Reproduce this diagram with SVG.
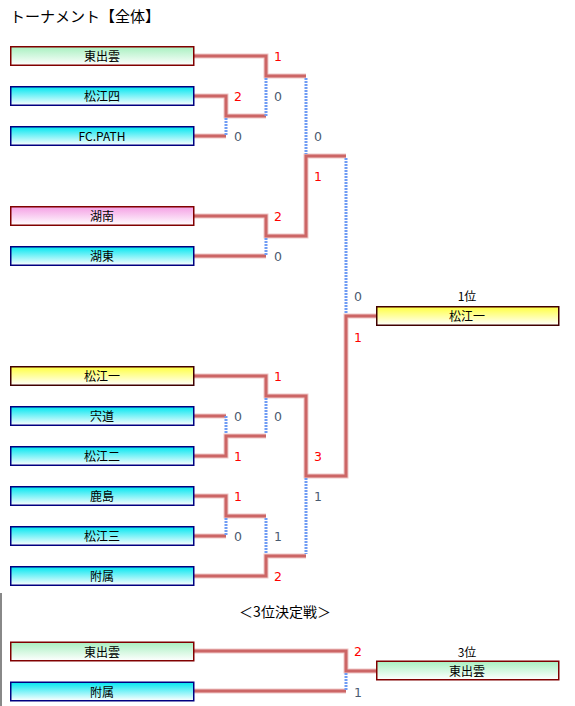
<svg xmlns="http://www.w3.org/2000/svg" width="575" height="706" viewBox="0 0 575 706">
<defs>
<linearGradient id="gG" x1="0" y1="0" x2="0" y2="1"><stop offset="0" stop-color="#a8f0c0"/><stop offset="1" stop-color="#ffffff"/></linearGradient>
<linearGradient id="gC" x1="0" y1="0" x2="0" y2="1"><stop offset="0" stop-color="#00e6f0"/><stop offset="1" stop-color="#ffffff"/></linearGradient>
<linearGradient id="gP" x1="0" y1="0" x2="0" y2="1"><stop offset="0" stop-color="#f4a0e4"/><stop offset="1" stop-color="#ffffff"/></linearGradient>
<linearGradient id="gY" x1="0" y1="0" x2="0" y2="1"><stop offset="0" stop-color="#ffff40"/><stop offset="1" stop-color="#ffffff"/></linearGradient>
</defs>
<style>
text{font-family:"Noto Sans CJK JP","DejaVu Sans",sans-serif;}
.bx{stroke-width:1.5;}
.r{stroke:#800000;}
.n{stroke:#000080;}
.y{stroke:#400000;}
.lb{font-size:12px;fill:#000;text-anchor:middle;}
.w{stroke:#cc6666;stroke-width:3;fill:none;}
.h{stroke:#f0c8c8;stroke-width:5;fill:none;}
.d{stroke:#6f9cf4;stroke-width:3;stroke-dasharray:2 1;fill:none;}
.sw{font-family:"DejaVu Sans",sans-serif;font-size:12.5px;fill:#ff0000;text-anchor:middle;}
.sl{font-family:"DejaVu Sans",sans-serif;font-size:12.5px;fill:#4a5a70;text-anchor:middle;}
.t{font-size:15px;fill:#000;}
</style>
<text class="t" x="10" y="22">トーナメント【全体】</text>
<line x1="1" y1="593" x2="1" y2="706" stroke="#888" stroke-width="2"/>
<g id="connectors">
<g class="h">
<path d="M194,56H266V76H306"/>
<path d="M194,96H226V116H266"/>
<path d="M194,136H226"/>
<path d="M194,216H266V236H306V156H346"/>
<path d="M194,256H266"/>
<path d="M194,376H266V396H306V476H346V316H376"/>
<path d="M194,416H226"/>
<path d="M194,456H226V436H266"/>
<path d="M194,496H226V516H266"/>
<path d="M194,536H226"/>
<path d="M194,576H266V556H306"/>
<path d="M194,651H346V671H376"/>
<path d="M194,691H346"/>
</g>
<g class="w">
<path d="M194,56H266V76H306"/>
<path d="M194,96H226V116H266"/>
<path d="M194,136H226"/>
<path d="M194,216H266V236H306V156H346"/>
<path d="M194,256H266"/>
<path d="M194,376H266V396H306V476H346V316H376"/>
<path d="M194,416H226"/>
<path d="M194,456H226V436H266"/>
<path d="M194,496H226V516H266"/>
<path d="M194,536H226"/>
<path d="M194,576H266V556H306"/>
<path d="M194,651H346V671H376"/>
<path d="M194,691H346"/>
</g>
<g class="d">
<path d="M226,118V136"/>
<path d="M266,78V116"/>
<path d="M306,78V154"/>
<path d="M266,238V256"/>
<path d="M346,158V314"/>
<path d="M226,416V434"/>
<path d="M266,398V434"/>
<path d="M226,518V536"/>
<path d="M266,518V554"/>
<path d="M306,478V554"/>
<path d="M346,673V691"/>
</g>
</g>
<g id="scores">
<text class="sw" x="278" y="61">1</text>
<text class="sw" x="238" y="101">2</text>
<text class="sl" x="278" y="101">0</text>
<text class="sl" x="238" y="141">0</text>
<text class="sl" x="318" y="141">0</text>
<text class="sw" x="318" y="181">1</text>
<text class="sw" x="278" y="221">2</text>
<text class="sl" x="278" y="261">0</text>
<text class="sl" x="358" y="301">0</text>
<text class="sw" x="358" y="342">1</text>
<text class="sw" x="278" y="381">1</text>
<text class="sl" x="238" y="421">0</text>
<text class="sl" x="278" y="421">0</text>
<text class="sw" x="238" y="461">1</text>
<text class="sw" x="318" y="461">3</text>
<text class="sw" x="238" y="501">1</text>
<text class="sl" x="318" y="501">1</text>
<text class="sl" x="238" y="541">0</text>
<text class="sl" x="278" y="541">1</text>
<text class="sw" x="278" y="581">2</text>
<text class="sw" x="358" y="656">2</text>
<text class="sl" x="358" y="697">1</text>
</g>
<g id="n1"><rect class="bx r" x="10.75" y="46.75" width="183" height="18.5" fill="url(#gG)"/><text class="lb" x="102" y="61">東出雲</text></g>
<g id="n2"><rect class="bx n" x="10.75" y="86.75" width="183" height="18.5" fill="url(#gC)"/><text class="lb" x="102" y="101">松江四</text></g>
<g id="n3"><rect class="bx n" x="10.75" y="126.75" width="183" height="18.5" fill="url(#gC)"/><text class="lb" x="102" y="141">FC.PATH</text></g>
<g id="n4"><rect class="bx r" x="10.75" y="206.75" width="183" height="18.5" fill="url(#gP)"/><text class="lb" x="102" y="221">湖南</text></g>
<g id="n5"><rect class="bx n" x="10.75" y="246.75" width="183" height="18.5" fill="url(#gC)"/><text class="lb" x="102" y="261">湖東</text></g>
<g id="n6"><rect class="bx y" x="10.75" y="366.75" width="183" height="18.5" fill="url(#gY)"/><text class="lb" x="102" y="381">松江一</text></g>
<g id="n7"><rect class="bx n" x="10.75" y="406.75" width="183" height="18.5" fill="url(#gC)"/><text class="lb" x="102" y="421">宍道</text></g>
<g id="n8"><rect class="bx n" x="10.75" y="446.75" width="183" height="18.5" fill="url(#gC)"/><text class="lb" x="102" y="461">松江二</text></g>
<g id="n9"><rect class="bx n" x="10.75" y="486.75" width="183" height="18.5" fill="url(#gC)"/><text class="lb" x="102" y="501">鹿島</text></g>
<g id="n10"><rect class="bx n" x="10.75" y="526.75" width="183" height="18.5" fill="url(#gC)"/><text class="lb" x="102" y="541">松江三</text></g>
<g id="n11"><rect class="bx n" x="10.75" y="566.75" width="183" height="18.5" fill="url(#gC)"/><text class="lb" x="102" y="581">附属</text></g>
<g id="winner1"><text class="lb" x="467" y="301">1位</text><rect class="bx y" x="376.75" y="306.75" width="182" height="18.5" fill="url(#gY)"/><text class="lb" x="467" y="321">松江一</text></g>
<text class="lb" x="285" y="617" style="font-size:14px">＜3位決定戦＞</text>
<g id="n12"><rect class="bx r" x="10.75" y="642.25" width="183" height="18.5" fill="url(#gG)"/><text class="lb" x="102" y="656.5">東出雲</text></g>
<g id="n13"><rect class="bx n" x="10.75" y="682.25" width="183" height="18.5" fill="url(#gC)"/><text class="lb" x="102" y="696.5">附属</text></g>
<g id="winner3"><text class="lb" x="467" y="657">3位</text><rect class="bx r" x="376.75" y="661.25" width="182" height="18.5" fill="url(#gG)"/><text class="lb" x="467" y="675.5">東出雲</text></g>
</svg>
